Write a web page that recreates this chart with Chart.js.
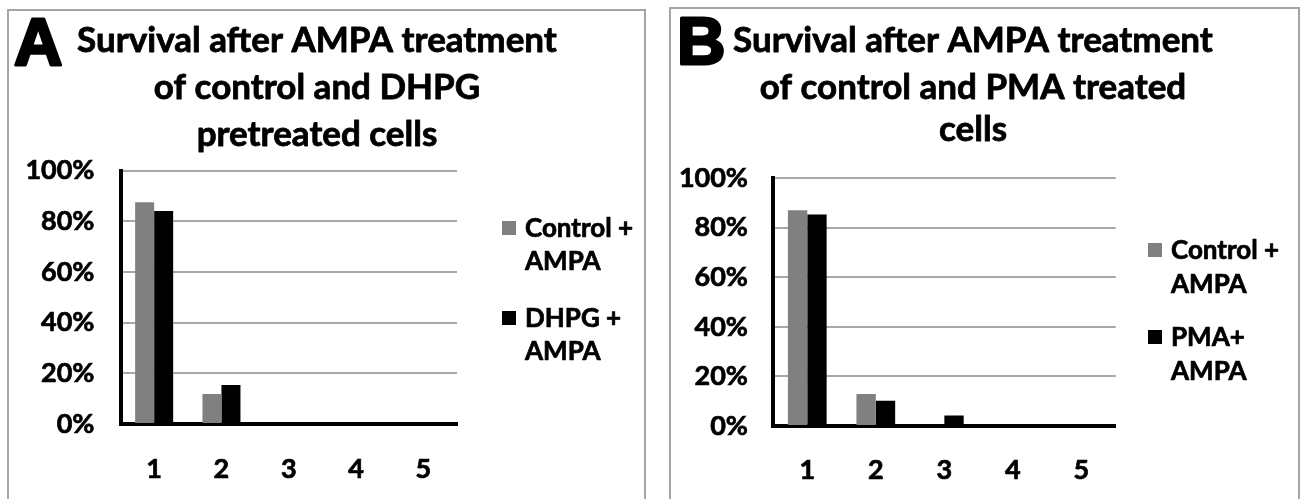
<!DOCTYPE html>
<html>
<head>
<meta charset="utf-8">
<script src="https://cdn.jsdelivr.net/npm/chart.js@4.4.1/dist/chart.umd.min.js"></script>
<style>
  html, body { margin: 0; padding: 0; background: #fff; overflow: hidden; width: 1304px; height: 499px; }
  .panel { position: absolute; border: 2px solid #a4a4a4; background: #fff; }
  #panelA { left: 7px; top: 9px; width: 635px; height: 500px; }
  #panelB { left: 669px; top: 7px; width: 627px; height: 500px; }
  canvas { display: block; }
</style>
</head>
<body>
<div class="panel" id="panelA"><canvas id="chartA" width="635" height="500"></canvas></div>
<div class="panel" id="panelB"><canvas id="chartB" width="627" height="500"></canvas></div>
<script>
// Categories on the x axis
const categories = ['1', '2', '3', '4', '5'];

// Panel A: survival (%) after AMPA, control vs DHPG pretreated
const controlA = [87.5, 11.8, 0, 0, 0];
const dhpgA    = [84.0, 15.4, 0, 0, 0];

// Panel B: survival (%) after AMPA, control vs PMA treated
const controlB = [87.0, 12.9, 0, 0, 0];
const pmaB     = [85.3, 10.2, 4.2, 0, 0];

// Y axis ticks (percent)
const yTicks = [0, 20, 40, 60, 80, 100];

// Titles and legend names
const titleA = ['Survival after AMPA treatment', 'of control and DHPG', 'pretreated cells'];
const titleB = ['Survival after AMPA treatment', 'of control and PMA treated', 'cells'];
const namesA = [['Control +', 'AMPA'], ['DHPG +', 'AMPA']];
const namesB = [['Control +', 'AMPA'], ['PMA+', 'AMPA']];

const FONT = "Lato, 'Open Sans', sans-serif";
const GRAY = '#808080';
const BLACK = '#000000';

// Text drawn with a thin outline so the bold face reads heavier
function heavyText(ctx, text, x, y, w) {
  ctx.lineWidth = w;
  ctx.strokeText(text, x, y);
  ctx.fillText(text, x, y);
}

// Draws the panel letter, the three-line title and the two-line legend entries
const panelTextPlugin = {
  id: 'panelText',
  afterDraw(chart, args, opts) {
    const ctx = chart.ctx;
    ctx.save();
    ctx.fillStyle = '#000';
    ctx.strokeStyle = '#000';
    ctx.lineJoin = 'round';
    ctx.textAlign = 'left';
    ctx.textBaseline = 'alphabetic';

    // panel letter
    ctx.font = "bold 67px 'Liberation Sans', Arial, sans-serif";
    heavyText(ctx, opts.letter, opts.letterX, opts.letterY, 3);

    // title
    ctx.font = 'bold ' + opts.titleSize + 'px ' + FONT;
    ctx.textAlign = 'center';
    opts.title.forEach((line, i) => {
      heavyText(ctx, line, opts.titleX, opts.titleY[i], 0.8);
    });

    // legend
    ctx.font = 'bold ' + opts.legendSize + 'px ' + FONT;
    ctx.textAlign = 'left';
    const cap = opts.legendSize * 0.36;
    chart.data.datasets.forEach((ds, i) => {
      const cy = opts.legendY[i];
      ctx.fillStyle = ds.backgroundColor;
      ctx.fillRect(opts.boxX, cy - 7, 14, 14);
      ctx.fillStyle = '#000';
      opts.names[i].forEach((line, k) => {
        heavyText(ctx, line, opts.textX, cy + cap + k * opts.lineGap, 0.7);
      });
    });
    ctx.restore();
  }
};

function makeChart(id, a, b, names, cfg) {
  const tickFont = { family: FONT, size: 27, weight: 'bold' };
  return new Chart(document.getElementById(id), {
    type: 'bar',
    data: {
      labels: categories,
      datasets: [
        { label: names[0].join(' '), data: a, backgroundColor: GRAY, borderWidth: 0,
          barPercentage: 1, categoryPercentage: 0.565 },
        { label: names[1].join(' '), data: b, backgroundColor: BLACK, borderWidth: 0,
          barPercentage: 1, categoryPercentage: 0.565 }
      ]
    },
    options: {
      responsive: false,
      animation: false,
      devicePixelRatio: 1,
      layout: { padding: { top: cfg.top, right: cfg.right, left: 0, bottom: 0 } },
      plugins: {
        legend: { display: false },
        title: { display: false },
        tooltip: { enabled: false },
        panelText: cfg.text
      },
      scales: {
        x: {
          z: 1,
          grid: { display: false, drawTicks: false },
          border: { display: true, color: '#000', width: 4 },
          ticks: { color: '#000', font: tickFont, padding: cfg.xPad,
                   textStrokeColor: '#000', textStrokeWidth: 0.7 },
          afterFit(s) { s.height = cfg.xH; }
        },
        y: {
          min: 0,
          max: 100,
          afterBuildTicks(s) { s.ticks = yTicks.map(v => ({ value: v })); },
          ticks: { color: '#000', font: tickFont, padding: cfg.yPad,
                   textStrokeColor: '#000', textStrokeWidth: 0.7,
                   callback: v => v + '%' },
          grid: { color: '#a8a8a8', lineWidth: 2, drawTicks: false },
          border: { display: true, color: '#000', width: 4 },
          afterFit(s) { s.width = cfg.yW; }
        }
      }
    },
    plugins: [panelTextPlugin]
  });
}

makeChart('chartA', controlA, dhpgA, namesA, {
  top: 159.5, right: 187, yW: 111.5, xH: 87, yPad: 26, xPad: 29,
  text: {
    letter: 'A', letterX: 5, letterY: 54,
    title: titleA, titleSize: 35, titleX: 308, titleY: [41, 88, 135],
    names: namesA, legendSize: 26, boxX: 493, textX: 516, legendY: [217, 307], lineGap: 32.5
  }
});

makeChart('chartB', controlB, pmaB, namesB, {
  top: 169, right: 182.3, yW: 102, xH: 83, yPad: 25, xPad: 28.5,
  text: {
    letter: 'B', letterX: 6, letterY: 55,
    title: titleB, titleSize: 35, titleX: 302, titleY: [43, 90, 132],
    names: namesB, legendSize: 26, boxX: 477, textX: 500, legendY: [241, 328], lineGap: 34
  }
});
</script>
</body>
</html>
